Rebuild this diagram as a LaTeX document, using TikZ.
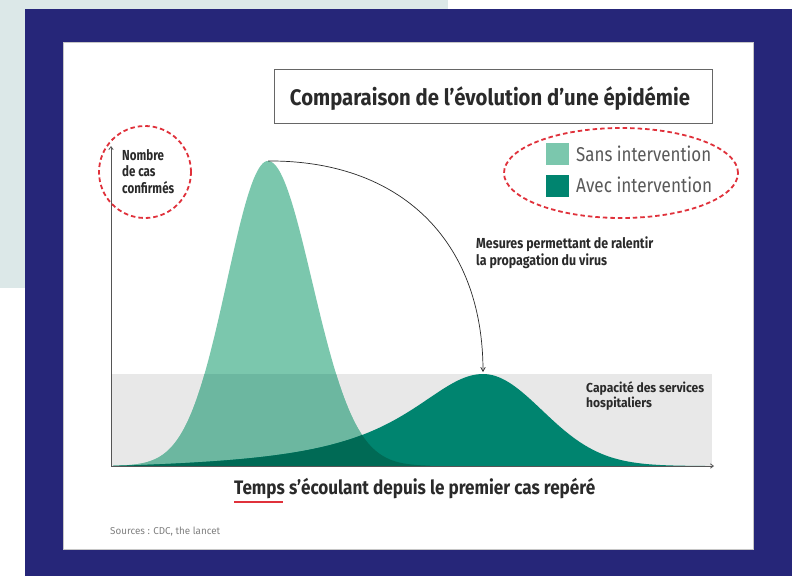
\documentclass[tikz,border=0pt]{standalone}
\usepackage{fontspec}
\usepackage{graphicx}
\setmainfont{Fira Sans}
\usetikzlibrary{arrows.meta,shapes.geometric}
\definecolor{navy}{HTML}{262679}
\definecolor{pale}{HTML}{DCE8E8}
\definecolor{lightg}{HTML}{7BC7AD}
\definecolor{lightgb}{HTML}{6CB7A0}
\definecolor{darkg}{HTML}{00846F}
\definecolor{darkgb}{HTML}{006A55}
\definecolor{bandc}{HTML}{E8E8E8}
\definecolor{redd}{HTML}{E0313B}
\definecolor{txt}{HTML}{2A2A2A}
\definecolor{axisc}{HTML}{555555}
\newcommand{\fitw}[2]{\resizebox{#1}{\height}{#2}}
\tikzset{
  lbl/.style={inner sep=0pt, text=txt, anchor=base west},
  ring/.style={draw=redd, line width=1.8pt, dash pattern=on 4.5pt off 3pt},
  axisline/.style={draw=axisc, line width=0.8pt, -{Straight Barb[length=3pt,width=4.5pt]}},
}
\def\lightpath{(113,466) -- plot[domain=113:268,samples=90] (\x,{466-305*exp(-0.5*((\x-268)/41)^2)}) -- plot[domain=268:430,samples=90] (\x,{466-305*exp(-0.5*((\x-268)/44)^2)}) -- (430,466) -- cycle}
\def\darkpath{(113,466) -- plot[domain=113:483,samples=120] (\x,{466-92*(1/(1+((\x-483)/94)^2)-0.06)/0.94}) -- plot[domain=483:705,samples=70] (\x,{466-92*exp(-0.5*((\x-483)/59)^2)}) -- (705,466) -- cycle}
\begin{document}
\begin{tikzpicture}[x=1pt,y=-1pt]
\useasboundingbox (0,0) rectangle (802,576);
\fill[white] (0,0) rectangle (802,576);
\fill[pale] (0,0) rectangle (448,288);
\fill[navy] (25,9) rectangle (792,576);
\fill[white, draw=gray!45, line width=0.8pt] (63,42) rectangle (753,549);
% hospital capacity band
\fill[bandc] (111,374) rectangle (712,466);
% curves
\fill[lightg] \lightpath;
\begin{scope}
  \clip (111,374) rectangle (712,466);
  \fill[lightgb] \lightpath;
\end{scope}
\fill[darkg] \darkpath;
\begin{scope}
  \clip \lightpath;
  \fill[darkgb] \darkpath;
\end{scope}
% axes
\coordinate (o) at (111,466);
\coordinate (ytop) at (111,146);
\coordinate (xend) at (714,466);
\draw[axisline] (o) -- (ytop);
\draw[axisline] (o) -- (xend);
% arrow between peaks
\coordinate (lpk) at (268,161);
\coordinate (dpk) at (483,372);
\draw[draw=txt, line width=0.7pt, -{Straight Barb[length=4pt,width=4.5pt]}] (lpk) .. controls (400,160) and (483,240) .. (dpk);
% title
\node[draw=gray!80!black, line width=0.9pt, minimum width=438pt, minimum height=54pt, inner sep=0pt] (titlebox) at (493,96) {};
\node[lbl, anchor=base] (title) at (490,105) {\fitw{400pt}{\fontsize{22.5}{24}\selectfont\bfseries Comparaison de l’évolution d’une épidémie}};
% y label
\node[lbl] (ylab) at (122,160.7) {\fitw{52pt}{\fontsize{14.5}{15.5}\selectfont\bfseries\begin{tabular}[t]{@{}l@{}}Nombre\\de cas\\confirmés\end{tabular}}};
\node[ring, circle, minimum size=92pt, inner sep=0pt] (ringY) at (145,172) {};
% legend
\node[fill=lightg, minimum width=23pt, minimum height=22pt, inner sep=0pt] (sq1) at (557,153.5) {};
\node[fill=darkg, minimum width=23pt, minimum height=22pt, inner sep=0pt] (sq2) at (557,186) {};
\node[lbl, text=black!65] (legsans) at (576,161.5) {\fitw{135pt}{\fontsize{20}{22}\selectfont Sans intervention}};
\node[lbl, text=black!65] (legavec) at (576,192.5) {\fitw{136pt}{\fontsize{20}{22}\selectfont Avec intervention}};
\node[ring, ellipse, minimum width=234pt, minimum height=90pt, inner sep=0pt] (ringL) at (621,173) {};
% annotations
\node[lbl] (mesures) at (476,248.5) {\fitw{177pt}{\fontsize{14.5}{16}\selectfont\bfseries\begin{tabular}[t]{@{}l@{}}Mesures permettant de ralentir\\la propagation du virus\end{tabular}}};
\node[lbl] (capa) at (586,392) {\fitw{118pt}{\fontsize{13}{15}\selectfont\bfseries\begin{tabular}[t]{@{}l@{}}Capacité des services\\hospitaliers\end{tabular}}};
% x label
\node[lbl] (xlab) at (234,494.5) {\fitw{361pt}{\fontsize{19.5}{21}\selectfont\bfseries Temps s’écoulant depuis le premier cas repéré}};
\draw[redd, line width=2.5pt] ([yshift=-7.5pt]xlab.base west) -- ([shift={(49pt,-7.5pt)}]xlab.base west);
% sources
\node[lbl, text=black!50] (src) at (110,534) {\fitw{110pt}{\fontsize{10}{12}\selectfont Sources : CDC, the lancet}};
\end{tikzpicture}
\end{document}
